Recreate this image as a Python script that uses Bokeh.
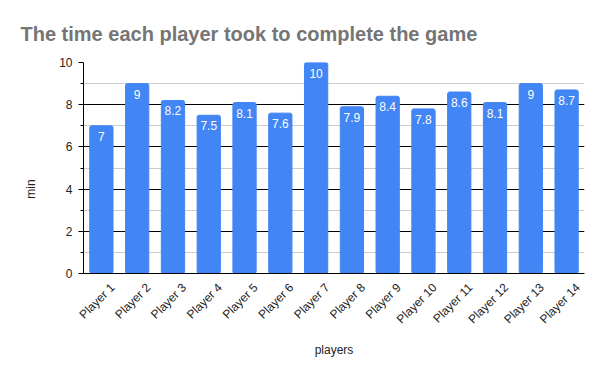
import math
from bokeh.plotting import figure
from bokeh.models import ColumnDataSource, FixedTicker, LabelSet, LinearAxis
from bokeh.core.properties import value
from bokeh.embed import file_html
from bokeh.resources import INLINE

players = ["Player 1", "Player 2", "Player 3", "Player 4", "Player 5", "Player 6", "Player 7",
           "Player 8", "Player 9", "Player 10", "Player 11", "Player 12", "Player 13", "Player 14"]
minutes = [7, 9, 8.2, 7.5, 8.1, 7.6, 10, 7.9, 8.4, 7.8, 8.6, 8.1, 9, 8.7]
labels = ["7", "9", "8.2", "7.5", "8.1", "7.6", "10", "7.9", "8.4", "7.8", "8.6", "8.1", "9", "8.7"]
y_major = [0, 2, 4, 6, 8, 10]
y_minor = [1, 3, 5, 7, 9]

# category slots: player i sits in the middle of slot i
slot = [i + 0.5 for i in range(len(players))]
src = ColumnDataSource(dict(x=slot, y=minutes, lab=labels, name=players))

p = figure(width=600, height=371, x_range=(0, len(players)), y_range=(0, 10),
           output_backend="svg", toolbar_location=None,
           min_border_left=83, min_border_right=16, min_border_top=62, min_border_bottom=98)
p.outline_line_color = None

p.title.text = "The time each player took to complete the game"
p.title.text_font = "Liberation Sans"
p.title.text_font_size = "20px"
p.title.text_font_style = "bold"
p.title.text_color = "#757575"
p.title.align = "left"
p.title.offset = -63
p.title.standoff = 35

p.vbar(x="x", top="y", width=0.65, source=src, color="#4285F4", border_radius=2)

p.add_layout(LabelSet(x="x", y="y", text="lab", source=src, text_color="white",
                      text_font=value("Liberation Sans"), text_font_size="12px",
                      text_align="center", text_baseline="top", y_offset=-6))

p.yaxis.ticker = FixedTicker(ticks=y_major, minor_ticks=y_minor)
p.ygrid.ticker = p.yaxis.ticker
p.ygrid.grid_line_color = "#000000"
p.ygrid.minor_grid_line_color = "#cccccc"
p.xgrid.grid_line_color = None

p.yaxis.major_label_text_font = "Liberation Sans"
p.yaxis.major_label_text_color = "#222222"
p.yaxis.major_label_text_font_size = "12px"
p.yaxis.axis_line_color = "#000000"
p.yaxis.major_tick_line_color = "#000000"
p.yaxis.major_tick_out = 5
p.yaxis.major_tick_in = 0
p.yaxis.minor_tick_line_color = "#000000"
p.yaxis.minor_tick_out = 3
p.yaxis.minor_tick_in = 0
p.yaxis.major_label_standoff = 6

# y-axis title "min", placed beside the 4 tick like the reference
ylab = LinearAxis(ticker=FixedTicker(ticks=[4], minor_ticks=[]), major_label_overrides={4: "min"},
                  major_label_orientation="vertical", major_label_standoff=12,
                  major_label_text_font="Liberation Sans", major_label_text_font_size="12px",
                  major_label_text_color="#222222", axis_line_color=None,
                  major_tick_line_color=None, minor_tick_line_color=None)
p.add_layout(ylab, "left")

# x axis: rotated player names, nudged right like the reference
lab_shift = 0.3125
tick_pos = [s + lab_shift for s in slot]
xa = p.xaxis[0]
xa.ticker = FixedTicker(ticks=tick_pos, minor_ticks=[])
xa.major_label_overrides = {t: n for t, n in zip(tick_pos, players)}
xa.major_label_orientation = math.pi / 4
xa.major_label_standoff = 6
xa.major_label_text_font = "Liberation Sans"
xa.major_label_text_font_size = "12px"
xa.major_label_text_color = "#222222"
xa.axis_line_color = "#000000"
xa.major_tick_line_color = None
xa.minor_tick_line_color = None
xa.axis_label = "players"
xa.axis_label_standoff = 9
xa.axis_label_text_font = "Liberation Sans"
xa.axis_label_text_font_size = "12px"
xa.axis_label_text_font_style = "normal"
xa.axis_label_text_color = "#222222"

open("out.html", "w").write(file_html(p, INLINE))
